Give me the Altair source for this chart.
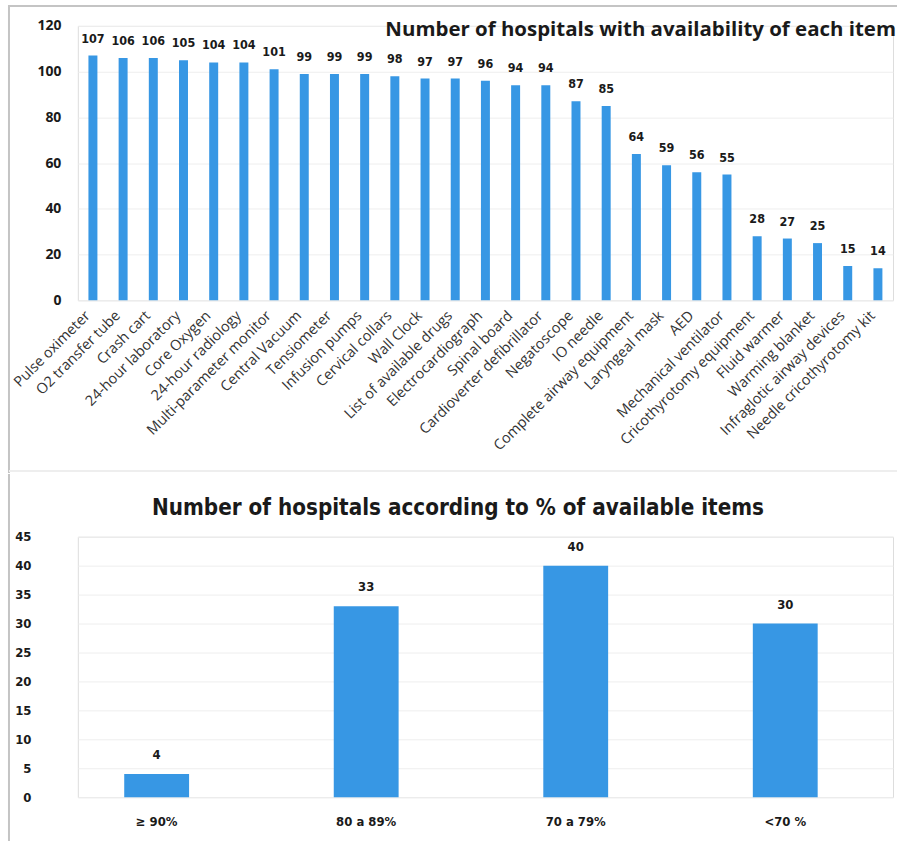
import altair as alt
import pandas as pd

items = ["Pulse oximeter", "O2 transfer tube", "Crash cart", "24-hour laboratory", "Core Oxygen",
         "24-hour radiology", "Multi-parameter monitor", "Central Vacuum", "Tensiometer",
         "Infusion pumps", "Cervical collars", "Wall Clock", "List of available drugs",
         "Electrocardiograph", "Spinal board", "Cardioverter defibrillator", "Negatoscope",
         "IO needle", "Complete airway equipment", "Laryngeal mask", "AED",
         "Mechanical ventilator", "Cricothyrotomy equipment", "Fluid warmer",
         "Warming blanket", "Infraglotic airway devices", "Needle cricothyrotomy kit"]
counts = [107, 106, 106, 105, 104, 104, 101, 99, 99, 99, 98, 97, 97, 96, 94, 94, 87, 85,
          64, 59, 56, 55, 28, 27, 25, 15, 14]

groups = ["\u2265 90%", "80 a 89%", "70 a 79%", "<70 %"]
hospitals = [4, 33, 40, 30]

title_top = "Number of hospitals with availability of each item"
title_bottom = "Number of hospitals according to % of available items"

BLUE = "#3797e4"
TXT = "#1a1a1a"
FRAME = "#c4c4c4"
NARROW = "DejaVu Sans Condensed"
SANS = "Open Sans"

W = 817
H1 = 275
H2 = 261
SHIFT = -14.5

df1 = pd.DataFrame({"item": items, "count": counts})
df2 = pd.DataFrame({"group": groups, "n": hospitals})
one = pd.DataFrame({"a": [0]})

base1 = alt.Chart(df1).encode(
    x=alt.X("item:N", sort=None, title=None,
            axis=alt.Axis(labelAngle=-45, labelAlign="right", labelBaseline="bottom",
                          labelPadding=18, labelFont=SANS, labelFontSize=14.5,
                          labelColor="#333333", domain=False, ticks=False, labelLimit=400)),
    y=alt.Y("count:Q", title=None, scale=alt.Scale(domain=[0, 120]),
            axis=alt.Axis(values=[0, 20, 40, 60, 80, 100, 120], labelFont=SANS,
                          labelFontSize=14, labelFontWeight="bold", labelColor=TXT,
                          labelPadding=17, domain=False, ticks=False,
                          gridColor="#eeeeee")),
)
bars1 = base1.mark_bar(size=9, color=BLUE)
labels1 = base1.mark_text(baseline="bottom", dy=-10, font=NARROW, fontSize=12.5,
                          fontWeight="bold", color=TXT).encode(text="count:Q")
t1 = alt.Chart(pd.DataFrame({"t": [title_top]})).mark_text(
    align="right", baseline="middle", font=SANS, fontSize=20.5, fontWeight="bold", color=TXT
).encode(text="t:N", x=alt.value(W + 3), y=alt.value(4))

frame_left1 = alt.Chart(one).mark_rule(color=FRAME, strokeWidth=2, strokeCap="square").encode(
    x=alt.value(-69), y=alt.value(-20), y2=alt.value(447))
frame_top = alt.Chart(one).mark_rule(color=FRAME, strokeWidth=2).encode(
    x=alt.value(-69), x2=alt.value(821), y=alt.value(-20))
sep = alt.Chart(one).mark_rule(color="#eeeeee", strokeWidth=2).encode(
    x=alt.value(-69), x2=alt.value(821), y=alt.value(446))

top = alt.layer(frame_left1, frame_top, sep, bars1, labels1, t1).properties(width=W, height=H1)

base2 = alt.Chart(df2).encode(
    x=alt.X("group:N", sort=None, title=None,
            scale=alt.Scale(paddingInner=0.1095, paddingOuter=0),
            axis=alt.Axis(labelAngle=0, labelFont=NARROW, labelFontSize=13,
                          labelFontWeight="bold", labelColor=TXT, labelPadding=18,
                          labelOffset=SHIFT, domain=False, ticks=False)),
    y=alt.Y("n:Q", title=None, scale=alt.Scale(domain=[0, 45]),
            axis=alt.Axis(values=list(range(0, 50, 5)), labelFont=NARROW, labelFontSize=13,
                          labelFontWeight="bold", labelColor=TXT, labelPadding=21,
                          offset=26, domain=False, ticks=False, gridColor="#eeeeee")),
)
bars2 = base2.mark_bar(size=65, color=BLUE, xOffset=SHIFT)
labels2 = base2.mark_text(baseline="bottom", dy=-12, dx=SHIFT, font=NARROW, fontSize=13,
                          fontWeight="bold", color=TXT).encode(text="n:Q")
t2 = alt.Chart(pd.DataFrame({"t": [title_bottom]})).mark_text(
    align="center", baseline="middle", font=NARROW, fontSize=22.3, fontWeight="bold", color=TXT
).encode(text="t:N", x=alt.value(381), y=alt.value(-29))

frame_left2 = alt.Chart(one).mark_rule(color=FRAME, strokeWidth=2, strokeCap="square").encode(
    x=alt.value(-69), y=alt.value(-62), y2=alt.value(305))

bottom = alt.layer(frame_left2, bars2, labels2, t2).properties(width=W, height=H2)

chart = alt.vconcat(top, bottom, spacing=-1).properties(
    padding={"left": 7, "top": 3, "right": 0, "bottom": 0}
).configure_view(stroke=None).configure(background="white")

chart.save("out.html", embed_options={"renderer": "svg", "actions": False})
